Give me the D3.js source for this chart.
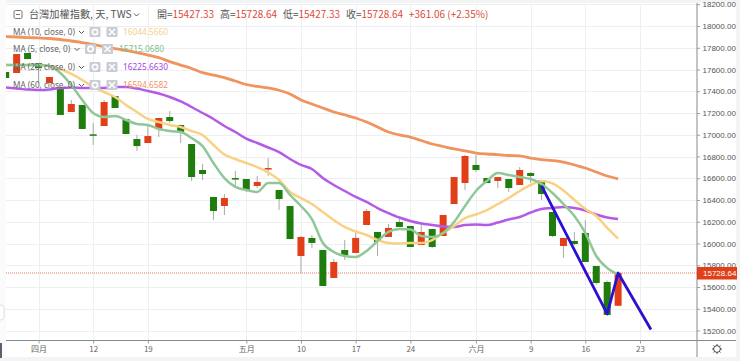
<!DOCTYPE html>
<html><head><meta charset="utf-8">
<script src="https://cdnjs.cloudflare.com/ajax/libs/d3/7.8.5/d3.min.js"></script>
<style>html,body{margin:0;padding:0;background:#f3f4f6;overflow:hidden}svg{display:block}</style>
</head><body><svg id="c" width="740" height="361"></svg>
<script>
const firstIndex = -3;
const opens  = [17577,17568,17752,17660,17476,17439,17209,17274,17004,17080,17356,17145,16961,16924,17053,17163,17090,16915,16676,16428,16345,16602,16593,16529,16680,16492,16345,15885,16051,15940,15683,15940,15913,16170,16106,16060,16198,16161,15986,16133,16069,16363,16556,16722,16602,16575,16593,16538,16648,16584,16290,15977,16023,16097,15793,15646,15427.33];
const closes = [17522,17742,17696,17614,17531,17182,17283,17053,16991,17301,17246,17007,16896,16988,17154,17126,17025,16611,16639,16299,16418,16588,16492,16566,16694,16409,16041,16060,16005,15609,15830,15894,16051,16299,16014,16143,16152,15968,16106,15968,16262,16611,16805,16676,16556,16611,16510,16676,16621,16455,16069,16051,15995,15830,15637,15343,15728.64];
const highs  = [17577,17742,17752,17660,17531,17439,17320,17274,17108,17320,17356,17145,16998,17090,17154,17218,17090,16915,16731,16428,16455,16667,16593,16621,16786,16492,16345,16069,16078,15940,15857,16032,16097,16317,16106,16179,16234,16161,16170,16133,16262,16611,16814,16814,16602,16611,16593,16703,16657,16584,16290,16051,16106,16216,15793,15660,15728.64];
const lows   = [17522,17568,17696,17476,17476,17182,17209,17053,16906,17080,17246,17007,16851,16924,16979,17108,16924,16575,16584,16216,16262,16510,16474,16510,16621,16308,16041,15729,15959,15609,15683,15848,15913,16170,15885,16060,16152,15968,15986,15959,16069,16363,16492,16657,16556,16510,16474,16538,16556,16400,16060,15867,15985,15830,15620,15343,15427.33];
const ma5  = [17641,17641,17641,17641,17632,17568,17457,17320,17200,17163,17172,17136,17099,17090,17053,17034,17025,16970,16896,16740,16602,16520,16492,16474,16556,16556,16446,16345,16225,16005,15922,15885,15876,15931,16023,16106,16133,16129,16069,16060,16097,16198,16345,16483,16575,16648,16630,16611,16593,16547,16464,16363,16253,16097,15885,15775,15715.07];
const ma10 = [17641,17641,17641,17641,17632,17605,17559,17503,17439,17393,17347,17274,17209,17145,17117,17090,17071,17034,16998,16906,16818,16777,16740,16703,16653,16584,16474,16418,16363,16290,16216,16152,16110,16078,16032,16005,16000,16005,16005,16032,16097,16161,16234,16267,16308,16363,16418,16483,16538,16575,16552,16487,16400,16317,16253,16143,16044.57];
const ma20 = [17434,17425,17416,17411,17416,17430,17434,17430,17430,17430,17439,17439,17425,17402,17379,17347,17306,17255,17200,17145,17080,17025,16965,16924,16883,16841,16777,16722,16685,16602,16538,16483,16428,16382,16326,16280,16239,16207,16184,16170,16156,16152,16170,16175,16170,16193,16221,16244,16285,16317,16326,16336,16326,16303,16267,16239,16225.66];
const ma60 = [17903,17899,17894,17890,17885,17876,17862,17848,17830,17811,17793,17775,17756,17733,17710,17673,17641,17609,17572,17549,17526,17494,17462,17444,17430,17409,17375,17320,17283,17246,17209,17182,17154,17117,17071,17025,16998,16979,16947,16915,16892,16869,16851,16832,16823,16818,16809,16805,16786,16772,16763,16749,16722,16694,16657,16621,16594.66];
const trendIdx = [46,52,53,56];
const trendVal = [16529,15352,15728.64,15209];
const yTicks = d3.range(15200,18201,200);
const xTickIdx = [0,5,10,19,24,29,34,40,45,50,55];
const xTickLabels = ["四月","12","19","五月","10","17","24","六月","9","16","23"];
const legendNames = ["MA (10, close, 0)","MA (5, close, 0)","MA (20, close, 0)","MA (60, close, 0)"];
const legendValues = ["16044.5660","15715.0680","16225.6630","16594.6582"];
const legendColors = ["#f7cf86","#7cc08a","#a93fe8","#f0935e"];

const UP="#e23e17", DOWN="#1f7d0d", GRID="#edeff3", TXT="#555", RED="#dd4b3a";
const FONT="'Liberation Sans',Arial,sans-serif";
const L=6,R=697,T=4,B=340.5;
const svg=d3.select("#c");
svg.append("rect").attr("x",L).attr("y",3).attr("width",730).attr("height",354).attr("fill","#fff");
svg.append("rect").attr("x",0).attr("y",0).attr("width",L).attr("height",358).attr("fill","#fbfbfc");
svg.append("rect").attr("x",-5).attr("y",305).attr("width",9).attr("height",15).attr("rx",3).attr("fill","#fff").attr("stroke","#dcdee2");
svg.append("rect").attr("x",0).attr("y",343).attr("width",2).attr("height",15).attr("fill","#5b6070");
const x=d3.scaleLinear().domain([0,55]).range([38.5,640]);
const y=d3.scaleLinear().domain([18000,15200]).range([26,330.5]);
const pane=svg.append("g");
svg.append("clipPath").attr("id","p").append("rect").attr("x",L).attr("y",T).attr("width",R-L).attr("height",B-T);

// grid
pane.selectAll(".gy").data(yTicks).join("line").attr("x1",L).attr("x2",R)
 .attr("y1",d=>Math.round(y(d))+.5).attr("y2",d=>Math.round(y(d))+.5).attr("stroke",GRID);
pane.selectAll(".gx").data(xTickIdx).join("line").attr("y1",T).attr("y2",B)
 .attr("x1",d=>Math.round(x(d))+.5).attr("x2",d=>Math.round(x(d))+.5).attr("stroke",GRID);

const g=svg.append("g").attr("clip-path","url(#p)");
// candles
const n=opens.length, idx=d3.range(n).map(i=>i+firstIndex);
g.selectAll(".w").data(idx).join("line")
 .attr("x1",d=>x(d)).attr("x2",d=>x(d))
 .attr("y1",d=>y(highs[d-firstIndex])).attr("y2",d=>y(lows[d-firstIndex]))
 .attr("stroke","#aaa").attr("stroke-width",1);
g.selectAll(".b").data(idx).join("rect")
 .attr("x",d=>x(d)-3.5).attr("width",7)
 .attr("y",d=>Math.min(y(opens[d-firstIndex]),y(closes[d-firstIndex])))
 .attr("height",d=>Math.max(1.5,Math.abs(y(opens[d-firstIndex])-y(closes[d-firstIndex]))))
 .attr("fill",d=>closes[d-firstIndex]>=opens[d-firstIndex]?UP:DOWN);
// last-price line
pane.append("line").attr("x1",L).attr("x2",R).attr("y1",y(15728.64)).attr("y2",y(15728.64))
 .attr("stroke","#e0553f").attr("stroke-width",.8).attr("stroke-dasharray","1 1");
// MA lines
const line=d3.line().x((d,i)=>x(i+firstIndex)).y(d=>y(d)).curve(d3.curveMonotoneX);
[[ma60,legendColors[3],2.8],[ma20,"#b45be6",2.5],[ma10,"#f8d184",2.5],[ma5,"#8fc896",2.5]].forEach(([s,c,w])=>{
 g.append("path").attr("d",line(s)).attr("fill","none").attr("stroke",c).attr("stroke-width",w).attr("stroke-linejoin","round");
});
// trend
g.append("path").attr("d",d3.line().x((d,i)=>x(trendIdx[i])).y(d=>y(d))(trendVal))
 .attr("fill","none").attr("stroke","#2b10d4").attr("stroke-width",2.8).attr("stroke-linejoin","round");

// axes lines
svg.append("line").attr("x1",R).attr("x2",R).attr("y1",3).attr("y2",357).attr("stroke","#9a9da1").attr("stroke-width",1.2);
svg.append("line").attr("x1",L).attr("x2",736).attr("y1",B).attr("y2",B).attr("stroke","#85888c").attr("stroke-width",1);
// y axis through d3
const ya=svg.append("g").attr("transform",`translate(${R},0)`)
 .call(d3.axisRight(y).tickValues(yTicks).tickFormat(d3.format(".2f")).tickSize(3).tickPadding(2.5));
ya.select(".domain").remove();
ya.selectAll("line").attr("stroke","#9a9da1");
ya.selectAll("text").attr("font-family",FONT).attr("font-size",8).attr("fill","#555");
// x axis
const xa=svg.append("g").attr("transform",`translate(0,${B})`)
 .call(d3.axisBottom(x).tickValues(xTickIdx).tickFormat((d,i)=>xTickLabels[i]).tickSize(3).tickPadding(3));
xa.select(".domain").remove();
xa.selectAll("line").attr("stroke","#9a9da1");
xa.selectAll("text").attr("font-family","'Noto Sans CJK TC',"+FONT).attr("font-size",8).attr("fill","#666");
// price tag
svg.append("rect").attr("x",R).attr("y",267).attr("width",40).attr("height",12.5).attr("fill",UP);
svg.append("text").attr("x",703).attr("y",276).attr("font-family",FONT).attr("font-size",8).attr("fill","#fff").text(d3.format(".2f")(15728.64));
// gear
const gear=svg.append("g").attr("transform","translate(717,349)").attr("fill","none").attr("stroke","#444");
gear.append("circle").attr("r",3.4).attr("stroke-width",1);
d3.range(8).forEach(i=>{const a=i*Math.PI/4;gear.append("line").attr("x1",3.4*Math.cos(a)).attr("y1",3.4*Math.sin(a)).attr("x2",4.9*Math.cos(a)).attr("y2",4.9*Math.sin(a)).attr("stroke-width",1);});

// header
const CJK="'Noto Sans CJK TC','Noto Sans',"+FONT, NS="'Noto Sans','Open Sans',"+FONT;
const hd=svg.append("g");
hd.append("rect").attr("x",14).attr("y",10.5).attr("width",8).attr("height",8).attr("rx",1.5).attr("fill","none").attr("stroke","#777");
hd.append("line").attr("x1",16).attr("x2",20).attr("y1",14.5).attr("y2",14.5).attr("stroke","#777");
const t=(xp,yp,s,c,fs,a)=>hd.append("text").attr("x",xp).attr("y",yp).attr("font-family",CJK).attr("font-size",fs||10).attr("fill",c||TXT).attr("text-anchor",a||"start").text(s);
t(29,18,"台灣加權指數, 天, TWS",TXT,10.2);
const chev=(xp,yp)=>hd.append("path").attr("d",`M${xp},${yp}l2.5,2.5l2.5,-2.5`).attr("fill","none").attr("stroke","#555").attr("stroke-width",1);
chev(134,13.5);
[[157,"開=","15427.33"],[220,"高=","15728.64"],[283,"低=","15427.33"],[346,"收=","15728.64"]].forEach(([xp,a,b])=>{
 t(xp,18,a,TXT,10); t(xp+15.5,18,b,RED,10);
});
t(409,18,"+361.06 (+2.35%)",RED,10);
// legend
const ly=[32,49,67,85], lx=[13,13,13,13], bx=[89.5,85,89.5,89.5], vx=[123,119,123,123];
legendNames.forEach((s,i)=>{
 hd.append("text").attr("x",lx[i]).attr("y",ly[i]+3).attr("font-family",NS).attr("font-size",8.2).attr("fill","#666").text(s);
 chev(bx[i]-10.5,ly[i]-1);
 [0,17].forEach((dx,k)=>{
  hd.append("rect").attr("x",bx[i]+dx).attr("y",ly[i]-5).attr("width",11).attr("height",10).attr("rx",1).attr("fill","#c9ccd2");
  if(k==0) hd.append("circle").attr("cx",bx[i]+dx+5.5).attr("cy",ly[i]).attr("r",2.6).attr("fill","none").attr("stroke","#fff").attr("stroke-width",1.6);
  else { hd.append("path").attr("d",`M${bx[i]+dx+2.5},${ly[i]-3}l6,6m0,-6l-6,6`).attr("stroke","#fff").attr("stroke-width",1.5); }
 });
 hd.append("text").attr("x",vx[i]).attr("y",ly[i]+3).attr("font-family",NS).attr("font-size",8.3).attr("fill",legendColors[i]).text(legendValues[i]);
});
</script></body></html>
